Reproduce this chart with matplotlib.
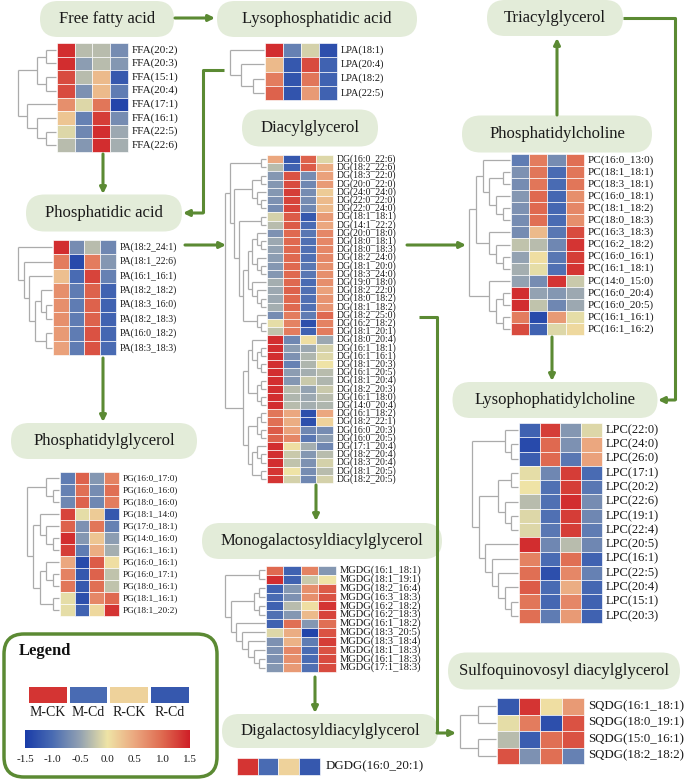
import numpy as np
import matplotlib
matplotlib.use("Agg")
import matplotlib.pyplot as plt
from matplotlib.colors import LinearSegmentedColormap
from matplotlib.patches import FancyBboxPatch

plt.rcParams['font.family'] = ['Liberation Serif', 'DejaVu Serif']

# ---------------- data ----------------
groups = ['M-CK', 'M-Cd', 'R-CK', 'R-Cd']

ffa_labels = ['FFA(20:2)', 'FFA(20:3)', 'FFA(15:1)', 'FFA(20:4)', 'FFA(17:1)', 'FFA(16:1)', 'FFA(22:5)', 'FFA(22:6)']
ffa_values = [[1.4, -0.3, -0.3, -0.7], [1.4, -0.55, -0.3, -0.6], [1.2, -0.3, 0.35, -1.2], [1.2, -0.65, 0.35, -0.85],
              [0.7, -0.1, 0.9, -1.4], [0.25, -0.8, 1.3, -0.7], [-0.1, -0.75, 1.4, -0.45], [-0.3, -0.6, 1.4, -0.4]]
ffa_tree = [[[0, 1], [2, 3]], [4, [5, [6, 7]]]]

lpa_labels = ['LPA(18:1)', 'LPA(20:4)', 'LPA(18:2)', 'LPA(22:5)']
lpa_values = [[1.4, -0.8, -0.15, -1.3], [0.35, -1.2, 1.2, -1.1], [0.85, -1.25, 0.9, -1.1], [1.05, -1.25, 0.6, -1.1]]
lpa_tree = [0, [1, [2, 3]]]

pa_labels = ['PA(18:2_24:1)', 'PA(18:1_22:6)', 'PA(16:1_16:1)', 'PA(18:2_18:2)', 'PA(18:3_16:0)', 'PA(18:2_18:3)',
             'PA(16:0_18:2)', 'PA(18:3_18:3)']
pa_values = [[1.4, -0.7, -0.3, -0.75], [0.85, -1.35, 0.85, -0.6], [0.3, -1.0, 1.25, -0.8], [0.7, -0.85, 1.05, -1.1],
             [0.7, -0.85, 1.05, -1.1], [0.7, -0.85, 1.05, -1.1], [0.6, -0.85, 1.15, -1.05], [0.55, -0.85, 1.15, -1.0]]
pa_tree = [0, [1, [2, [[3, [4, 5]], [6, 7]]]]]

pg_labels = ['PG(16:0_17:0)', 'PG(16:0_16:0)', 'PG(18:0_16:0)', 'PG(18:1_14:0)', 'PG(17:0_18:1)', 'PG(14:0_16:0)',
             'PG(16:1_16:1)', 'PG(16:0_16:1)', 'PG(16:0_17:1)', 'PG(18:0_16:1)', 'PG(18:1_16:1)', 'PG(18:1_20:2)']
pg_values = [[-0.85, 1.05, -0.6, 0.8], [-0.8, 0.95, -0.7, 0.95], [-0.75, 1.05, -0.75, 0.85], [1.25, -0.05, 0.2, -1.2],
             [1.05, -0.65, 0.9, -0.8], [1.4, -0.6, 0.25, -0.55], [1.3, -0.85, 0.45, -0.4], [0.5, -1.35, 1.1, 0.05],
             [0.8, -1.2, 1.05, -0.25], [0.9, -1.2, 0.95, -0.25], [-0.05, -1.3, 0.75, 1.0], [-0.05, -1.1, 0.1, 1.35]]
pg_tree = [[0, [1, 2]], [[3, [4, [5, 6]]], [[7, [8, 9]], [10, 11]]]]

dg_labels = ['DG(16:0_22:6)', 'DG(18:2_22:6)', 'DG(18:3_22:0)', 'DG(20:0_22:0)', 'DG(24:0_24:0)', 'DG(22:0_22:0)',
             'DG(22:0_24:0)', 'DG(18:1_18:1)', 'DG(14:1_22:2)', 'DG(20:0_18:0)', 'DG(18:0_18:1)', 'DG(18:0_18:3)',
             'DG(18:2_24:0)', 'DG(18:1_20:0)', 'DG(18:3_24:0)', 'DG(19:0_18:0)', 'DG(18:2_22:0)', 'DG(18:0_18:2)',
             'DG(18:1_18:2)', 'DG(18:2_25:0)', 'DG(16:2_18:2)', 'DG(18:1_20:1)', 'DG(18:0_20:4)', 'DG(16:1_18:1)',
             'DG(16:1_16:1)', 'DG(18:1_20:3)', 'DG(16:1_20:5)', 'DG(18:1_20:4)', 'DG(18:2_20:3)', 'DG(16:1_18:0)',
             'DG(14:0_20:4)', 'DG(16:1_18:2)', 'DG(18:2_22:1)', 'DG(16:0_20:3)', 'DG(16:0_20:5)', 'DG(17:1_20:4)',
             'DG(18:2_20:4)', 'DG(18:3_20:4)', 'DG(18:1_20:5)', 'DG(18:2_20:5)']
dg_values = [[0.5, -1.2, 1.05, -0.1], [-0.3, -1.1, 1.1, 0.45], [-0.6, 1.15, -0.7, 0.55], [-0.6, 1.2, -0.75, 0.6],
             [-0.6, 1.3, -0.7, 0.2], [-0.65, 1.25, -0.7, 0.35], [-0.7, 1.25, -0.75, 0.35], [-0.15, 1.1, -1.2, 0.6],
             [-0.3, 1.1, -1.0, 0.5], [-0.65, 1.0, -0.9, 0.75], [-0.45, 1.0, -0.95, 0.75], [-0.5, 1.0, -0.95, 0.75],
             [-0.55, 1.0, -0.95, 0.75], [-0.6, 1.0, -0.9, 0.7], [-0.6, 1.0, -0.9, 0.7], [-0.4, 1.0, -1.0, 0.7],
             [-0.45, 1.05, -0.95, 0.55], [-0.45, 1.0, -0.95, 0.65], [-0.4, 1.0, -0.95, 0.65], [-0.7, 0.85, -0.85, 1.0],
             [-0.05, 0.8, -1.3, 0.8], [-0.25, 0.85, -1.1, 0.85], [1.4, -0.75, 0.05, -0.45], [1.4, -0.55, -0.45, -0.15],
             [1.4, -0.65, -0.35, -0.1], [1.4, -0.8, -0.35, 0.0], [1.4, -0.55, -0.4, -0.3], [1.4, -0.6, -0.2, -0.35],
             [1.4, -0.3, -0.5, -0.2], [1.4, -0.35, -0.45, -0.3], [1.4, -0.3, -0.4, -0.35], [0.9, 0.5, -1.3, 0.5],
             [0.95, 0.45, -1.3, 0.15], [1.1, 0.55, -0.75, -0.7], [1.05, 0.75, -0.9, -0.55], [1.4, 0.05, -0.4, -0.75],
             [1.4, -0.2, -0.6, -0.3], [1.4, -0.25, -0.65, -0.15], [1.35, 0.0, -0.7, -0.3], [1.35, -0.15, -0.75, -0.15]]
dg_tree = [[[0, 1], [[[2, 3], [4, [5, 6]]],
                     [[7, 8], [[[[9, [10, 11]], [12, [13, 14]]], [15, [16, [17, 18]]]], [19, [20, 21]]]]]],
           [[[22, [[23, 24], [25, 26]]], [[27, 28], [29, 30]]], [[[31, 32], [33, 34]], [[35, [36, 37]], [38, 39]]]]]

pc_labels = ['PC(16:0_13:0)', 'PC(18:1_18:1)', 'PC(18:3_18:1)', 'PC(16:0_18:1)', 'PC(18:1_18:2)', 'PC(18:0_18:3)',
             'PC(16:3_18:3)', 'PC(16:2_18:2)', 'PC(16:0_16:1)', 'PC(16:1_18:1)', 'PC(14:0_15:0)', 'PC(16:0_20:4)',
             'PC(16:0_20:5)', 'PC(16:1_16:1)', 'PC(16:1_16:2)']
pc_values = [[-0.85, 0.85, -0.7, 0.95], [-0.65, 0.9, -1.0, 0.9], [-0.7, 0.9, -1.0, 0.9], [-0.6, 1.0, -1.05, 0.7],
             [-0.65, 1.0, -1.05, 0.75], [-0.7, 0.95, -1.0, 0.7], [-0.7, 0.35, -0.9, 1.2], [-0.25, -0.3, -0.75, 1.35],
             [-0.5, 0.05, -0.9, 1.3], [-0.4, -0.05, -0.95, 1.35], [-0.5, -0.7, 1.35, -0.2], [1.4, -0.5, -0.6, -0.45],
             [1.4, -0.25, -0.75, -0.45], [0.85, -1.35, 0.6, -0.05], [1.2, -1.1, -0.1, 0.1]]
pc_tree = [[[0, [[1, 2], [3, [4, 5]]]], [6, [7, [8, 9]]]], [10, [[11, 12], [13, 14]]]]

lpc_labels = ['LPC(22:0)', 'LPC(24:0)', 'LPC(26:0)', 'LPC(17:1)', 'LPC(20:2)', 'LPC(22:6)', 'LPC(19:1)',
              'LPC(22:4)', 'LPC(20:5)', 'LPC(16:1)', 'LPC(22:5)', 'LPC(20:4)', 'LPC(15:1)', 'LPC(20:3)']
lpc_values = [[-1.1, 1.3, -0.6, -0.1], [-1.35, 1.0, -0.65, 0.5], [-1.15, 1.0, -0.9, 0.55], [-0.05, -0.75, 1.3, -1.0],
              [0.0, -0.95, 1.3, -0.9], [-0.3, -0.95, 1.4, -0.7], [-0.1, -0.95, 1.3, -0.75], [-0.1, -0.9, 1.3, -0.85],
              [1.4, -0.75, -0.3, -0.75], [0.8, -1.0, 0.95, -1.1], [0.95, -1.3, 0.75, -0.8], [1.1, -1.0, 0.45, -1.05],
              [0.9, -1.05, 0.75, -1.1], [0.95, -0.85, 0.6, -1.1]]
lpc_tree = [[0, [1, 2]], [[[3, 4], [5, [6, 7]]], [8, [9, [10, [11, [12, 13]]]]]]]

mgdg_labels = ['MGDG(16:1_18:1)', 'MGDG(18:1_19:1)', 'MGDG(18:2_16:4)', 'MGDG(16:3_18:3)', 'MGDG(16:2_18:2)',
               'MGDG(16:2_18:3)', 'MGDG(16:1_18:2)', 'MGDG(18:3_20:5)', 'MGDG(18:3_18:4)', 'MGDG(18:1_18:3)',
               'MGDG(16:1_18:3)', 'MGDG(17:1_18:3)']
mgdg_values = [[1.0, -1.1, 0.8, -0.6], [1.4, -1.1, -0.2, 0.0], [-1.1, -0.6, 0.7, 1.1], [-1.0, -0.65, 0.7, 1.15],
               [-1.1, -0.3, 0.05, 1.35], [-0.95, -0.6, 0.35, 1.25], [-1.1, 0.95, -0.6, 0.95], [-0.1, 0.45, -1.4, 1.15],
               [-0.65, 0.4, -0.85, 1.3], [-0.65, 0.75, -1.0, 1.15], [-0.65, 0.7, -1.0, 1.2], [-0.6, 0.6, -0.95, 1.2]]
mgdg_tree = [[0, 1], [[[2, 3], [4, 5]], [6, [7, [8, [9, [10, 11]]]]]]]

dgdg_labels = ['DGDG(16:0_20:1)']
dgdg_values = [[1.35, -1.0, 0.15, -1.2]]

sqdg_labels = ['SQDG(16:1_18:1)', 'SQDG(18:0_19:1)', 'SQDG(15:0_16:1)', 'SQDG(18:2_18:2)']
sqdg_values = [[-1.2, 1.35, 0.05, 0.6], [-0.05, 0.85, -1.3, 1.15], [-0.3, -1.15, 0.95, 1.15], [1.15, -0.65, 0.95, -0.8]]
sqdg_tree = [[0, 1], [2, 3]]

legend_values = [[1.35, -1.0, 0.15, -1.2]]
cbar_ticks = [-1.5, -1.0, -0.5, 0.0, 0.5, 1.0, 1.5]

# ---------------- style ----------------
cmap = LinearSegmentedColormap.from_list('hm', [
    (0.0, '#1a3ca8'), (1 / 6, '#4a6cb3'), (2 / 6, '#93a2b2'), (0.5, '#efe4a6'),
    (4 / 6, '#eba77f'), (5 / 6, '#df6a50'), (1.0, '#cf1f27')])
VMIN, VMAX = -1.5, 1.5
GREEN = '#5b8a33'
BOXFILL = '#e3ecd9'
DENDRO = '#ababab'

fig = plt.figure(figsize=(6.85, 7.8), dpi=100)
ax = fig.add_axes([0, 0, 1, 1])
ax.set_xlim(0, 685)
ax.set_ylim(780, 0)
ax.axis('off')


def heatmap(values, labels, x0, x1, y0, y1, fs, tree=None, dx_root=None, lgap=4):
    v = np.array(values, dtype=float)
    nr, nc = v.shape
    X = np.linspace(x0, x1, nc + 1)
    Y = np.linspace(y0, y1, nr + 1)
    ax.pcolormesh(X, Y, v, cmap=cmap, vmin=VMIN, vmax=VMAX, edgecolors='white', linewidth=0.45,
                  antialiased=True)
    rh = (y1 - y0) / nr
    for i, lab in enumerate(labels):
        ax.text(x1 + lgap, y0 + (i + 0.5) * rh, lab, fontsize=fs, va='center', ha='left', color='#1a1a1a')
    if tree is not None:
        draw_dendro(tree, x0 - 1, dx_root, y0, rh)


def depth(node):
    if isinstance(node, int):
        return 0
    return 1 + max(depth(c) for c in node)


def draw_dendro(tree, xleaf, xroot, y0, rh):
    H = depth(tree)

    def rec(node):
        if isinstance(node, int):
            return y0 + (node + 0.5) * rh, xleaf
        res = [rec(c) for c in node]
        h = depth(node)
        x = xleaf - (xleaf - xroot) * h / H
        ys = [r[0] for r in res]
        for (yc, xc) in res:
            ax.plot([xc, x], [yc, yc], color=DENDRO, lw=0.9, solid_capstyle='butt')
        ax.plot([x, x], [min(ys), max(ys)], color=DENDRO, lw=0.9, solid_capstyle='butt')
        return (min(ys) + max(ys)) / 2, x

    rec(tree)


def title_box(cx, cy, w, h, text, fs=12):
    b = FancyBboxPatch((cx - w / 2, cy - h / 2), w, h,
                       boxstyle='round,pad=0,rounding_size=%f' % (h / 2),
                       fc=BOXFILL, ec='none', zorder=1)
    ax.add_patch(b)
    ax.text(cx, cy, text, fontsize=fs, ha='center', va='center', color='#1a1a1a', zorder=2)


def arrow(pts):
    xs = [p[0] for p in pts]
    ys = [p[1] for p in pts]
    if len(pts) > 2:
        ax.plot(xs[:-1], ys[:-1], color=GREEN, lw=2.2, solid_capstyle='butt', zorder=3)
    ax.annotate('', xy=pts[-1], xytext=pts[-2],
                arrowprops=dict(arrowstyle='-|>', color=GREEN, lw=2.2, mutation_scale=9,
                                shrinkA=0, shrinkB=0), zorder=3)


# ---------------- title boxes ----------------
title_box(107, 19, 134, 36, 'Free fatty acid')
title_box(317, 19, 200, 36, 'Lysophosphatidic acid')
title_box(555, 18, 136, 36, 'Triacylglycerol')
title_box(104, 213, 156, 37, 'Phosphatidic acid')
title_box(310, 128, 136, 37, 'Diacylglycerol')
title_box(557, 134, 190, 37, 'Phosphatidylcholine')
title_box(555, 400, 205, 36, 'Lysophophatidylcholine')
title_box(104, 441, 186, 36, 'Phosphatidylglycerol')
title_box(322, 541, 240, 36, 'Monogalactosyldiacylglycerol')
title_box(330, 731, 216, 34, 'Digalactosyldiacylglycerol')
title_box(564, 671, 232, 37, 'Sulfoquinovosyl diacylglycerol')

# ---------------- heatmaps ----------------
heatmap(ffa_values, ffa_labels, 57, 128, 43, 152, 8, ffa_tree, 18)
heatmap(lpa_values, lpa_labels, 265, 337, 43, 100, 7.5, lpa_tree, 230)
heatmap(pa_values, pa_labels, 53, 116, 240, 355, 7, pa_tree, 18)
heatmap(pg_values, pg_labels, 60, 119, 472, 616, 6.7, pg_tree, 27)
heatmap(dg_values, dg_labels, 267, 333, 155, 483, 7, dg_tree, 225)
heatmap(pc_values, pc_labels, 511, 584, 154, 335, 8, pc_tree, 469)
heatmap(lpc_values, lpc_labels, 519, 602, 423, 623, 9, lpc_tree, 472)
heatmap(mgdg_values, mgdg_labels, 266, 336, 566, 672, 7.6, mgdg_tree, 225)
heatmap(dgdg_values, dgdg_labels, 237, 320, 758, 775, 9.3, None, None, 6)
heatmap(sqdg_values, sqdg_labels, 497, 584, 698, 764, 9.3, sqdg_tree, 460)

# ---------------- connectors ----------------
arrow([(175, 18), (215, 18)])
arrow([(103, 154), (103, 194)])
arrow([(224, 70), (203, 70), (203, 213), (183, 213)])
arrow([(185, 245), (226, 245)])
arrow([(407, 245), (466, 245)])
arrow([(557, 115), (557, 38)])
arrow([(623, 18), (675, 18), (675, 400), (658, 400)])
arrow([(552, 337), (552, 381)])
arrow([(103, 358), (103, 422)])
arrow([(316, 485), (316, 521)])
arrow([(315, 677), (315, 713)])
arrow([(419, 317), (437, 317), (437, 733), (456, 733)])

# ---------------- legend ----------------
lg = FancyBboxPatch((4, 634), 213, 143, boxstyle='round,pad=0,rounding_size=20',
                    fc='white', ec=GREEN, lw=2.5, zorder=2)
ax.add_patch(lg)
ax.text(19, 651, 'Legend', fontsize=12, fontweight='bold', ha='left', va='center', color='#111', zorder=3)
LX0, LX1 = 27, 190
lv = np.array(legend_values)
ax.pcolormesh(np.linspace(LX0, LX1, len(groups) + 1), [685, 704], lv, cmap=cmap, vmin=VMIN, vmax=VMAX,
              edgecolors='white', linewidth=0.8, zorder=3)
gw = (LX1 - LX0) / len(groups)
for i, g in enumerate(groups):
    ax.text(LX0 + (i + 0.5) * gw, 713, g, fontsize=10, ha='center', va='center', color='#1a1a1a', zorder=3)
CB0, CB1 = 25, 190
grad = np.linspace(VMIN, VMAX, 256)[None, :]
ax.imshow(grad, extent=(CB0, CB1, 748, 730), cmap=cmap, vmin=VMIN, vmax=VMAX, aspect='auto', zorder=3)
for t in cbar_ticks:
    xt = CB0 + (t - VMIN) / (VMAX - VMIN) * (CB1 - CB0)
    ax.text(xt, 759, '%.1f' % t, fontsize=8, ha='center', va='center', color='#1a1a1a', zorder=3)

ax.set_xlim(0, 685)
ax.set_ylim(780, 0)
fig.savefig('out.png', dpi=100)
